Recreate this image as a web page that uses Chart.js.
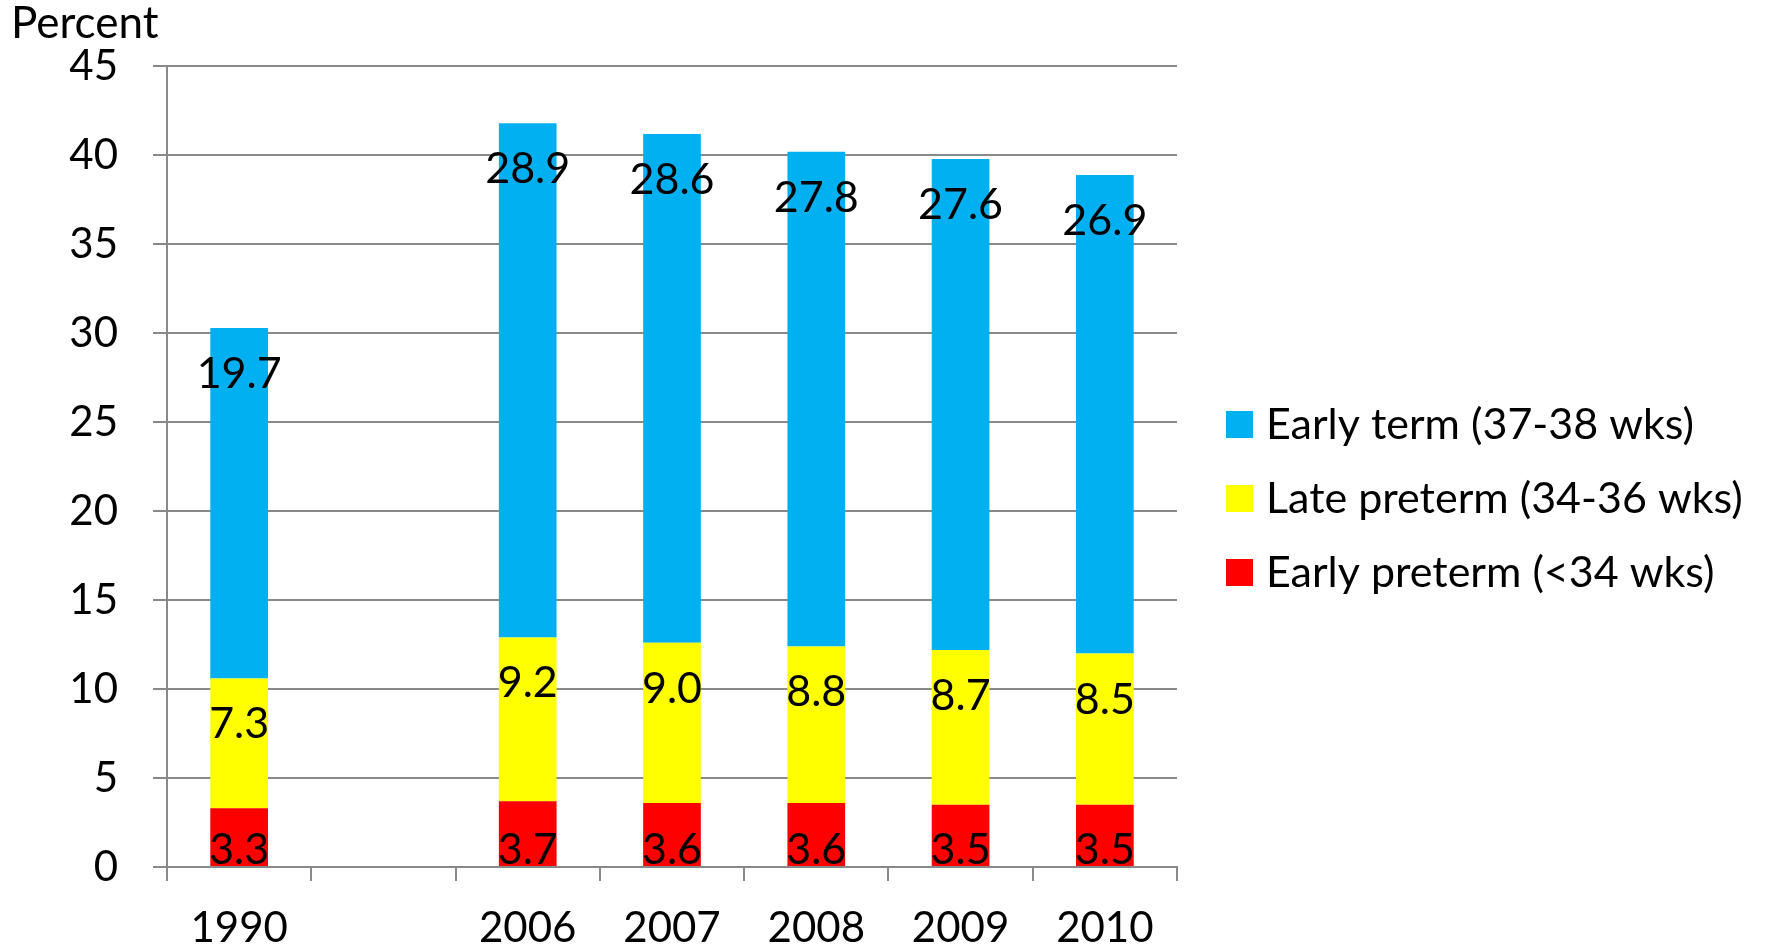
<!DOCTYPE html>
<html>
<head>
<meta charset="utf-8">
<script src="https://cdn.jsdelivr.net/npm/chart.js@4/dist/chart.umd.min.js"></script>
<style>
    body { margin: 0; background: white; }
</style>
</head>
<body>
<canvas id="grafico" width="1774" height="948"></canvas>
<script>
const anos = ["1990", "", "2006", "2007", "2008", "2009", "2010"];
const earlyPreterm = [3.3, null, 3.7, 3.6, 3.6, 3.5, 3.5];
const latePreterm = [7.3, null, 9.2, 9.0, 8.8, 8.7, 8.5];
const earlyTerm = [19.7, null, 28.9, 28.6, 27.8, 27.6, 26.9];
const yTicks = [0, 5, 10, 15, 20, 25, 30, 35, 40, 45];

const fonte = "Lato";
const cinza = "#898989";

// rotulos dentro das barras
const rotulos = {
    id: "rotulos",
    afterDatasetsDraw(chart) {
        const ctx = chart.ctx;
        ctx.save();
        ctx.font = "43px " + fonte;
        ctx.fillStyle = "black";
        ctx.textAlign = "center";
        ctx.textBaseline = "alphabetic";
        chart.data.datasets.forEach((ds, i) => {
            chart.getDatasetMeta(i).data.forEach((bar, j) => {
                const v = ds.data[j];
                if (v === null) return;
                let y;
                if (ds.rotulo === "base") {
                    y = bar.base - 2;
                } else {
                    y = bar.y + 60;
                }
                ctx.fillText(v.toFixed(1), bar.x, y);
            });
        });
        ctx.restore();
    }
};

// legenda desenhada a mao, a direita
const legenda = {
    id: "legenda",
    afterDraw(chart) {
        const ctx = chart.ctx;
        const lista = chart.data.datasets.slice().reverse();
        ctx.save();
        ctx.font = "43px " + fonte;
        ctx.textAlign = "left";
        ctx.textBaseline = "middle";
        lista.forEach((ds, i) => {
            const cy = 424 + i * 74;
            ctx.fillStyle = ds.backgroundColor;
            ctx.fillRect(1226, cy - 13, 27, 27);
            ctx.fillStyle = "black";
            ctx.fillText(ds.label, 1266, cy + 1);
        });
        ctx.restore();
    }
};

new Chart(document.getElementById("grafico"), {
    type: "bar",
    data: {
        labels: anos,
        datasets: [
            {
                label: "Early preterm (<34 wks)",
                data: earlyPreterm,
                backgroundColor: "#FF0000",
                rotulo: "base"
            },
            {
                label: "Late preterm (34-36 wks)",
                data: latePreterm,
                backgroundColor: "#FFFF00",
                rotulo: "end"
            },
            {
                label: "Early term (37-38 wks)",
                data: earlyTerm,
                backgroundColor: "#00B0F0",
                rotulo: "end"
            }
        ]
    },
    options: {
        responsive: false,
        animation: false,
        devicePixelRatio: 1,
        categoryPercentage: 1,
        barPercentage: 0.4,
        layout: {
            padding: { left: 11, right: 597, top: 0, bottom: 0 }
        },
        plugins: {
            legend: { display: false },
            tooltip: { enabled: false },
            title: {
                display: true,
                text: "Percent",
                align: "start",
                color: "black",
                font: { family: fonte, size: 44, weight: "normal", lineHeight: 1.1 },
                padding: { top: 0, bottom: 18 }
            }
        },
        scales: {
            x: {
                stacked: true,
                grid: {
                    offset: true,
                    drawOnChartArea: false,
                    drawTicks: true,
                    tickLength: 14,
                    color: cinza,
                    lineWidth: 2
                },
                border: { display: true, color: cinza, width: 2 },
                ticks: {
                    color: "black",
                    padding: 22,
                    font: { family: fonte, size: 42, lineHeight: 1.2 }
                },
                afterFit(scale) {
                    scale.height = 81;
                }
            },
            y: {
                stacked: true,
                min: 0,
                max: 45,
                afterBuildTicks(scale) {
                    scale.ticks = yTicks.map(v => ({ value: v }));
                },
                grid: {
                    drawTicks: true,
                    tickLength: 14,
                    color: cinza,
                    lineWidth: 2
                },
                border: { display: true, color: cinza, width: 2 },
                ticks: {
                    color: "black",
                    padding: 35,
                    font: { family: fonte, size: 42, lineHeight: 1.2 }
                },
                afterFit(scale) {
                    scale.width = 156;
                }
            }
        }
    },
    plugins: [rotulos, legenda]
});
</script>
</body>
</html>
